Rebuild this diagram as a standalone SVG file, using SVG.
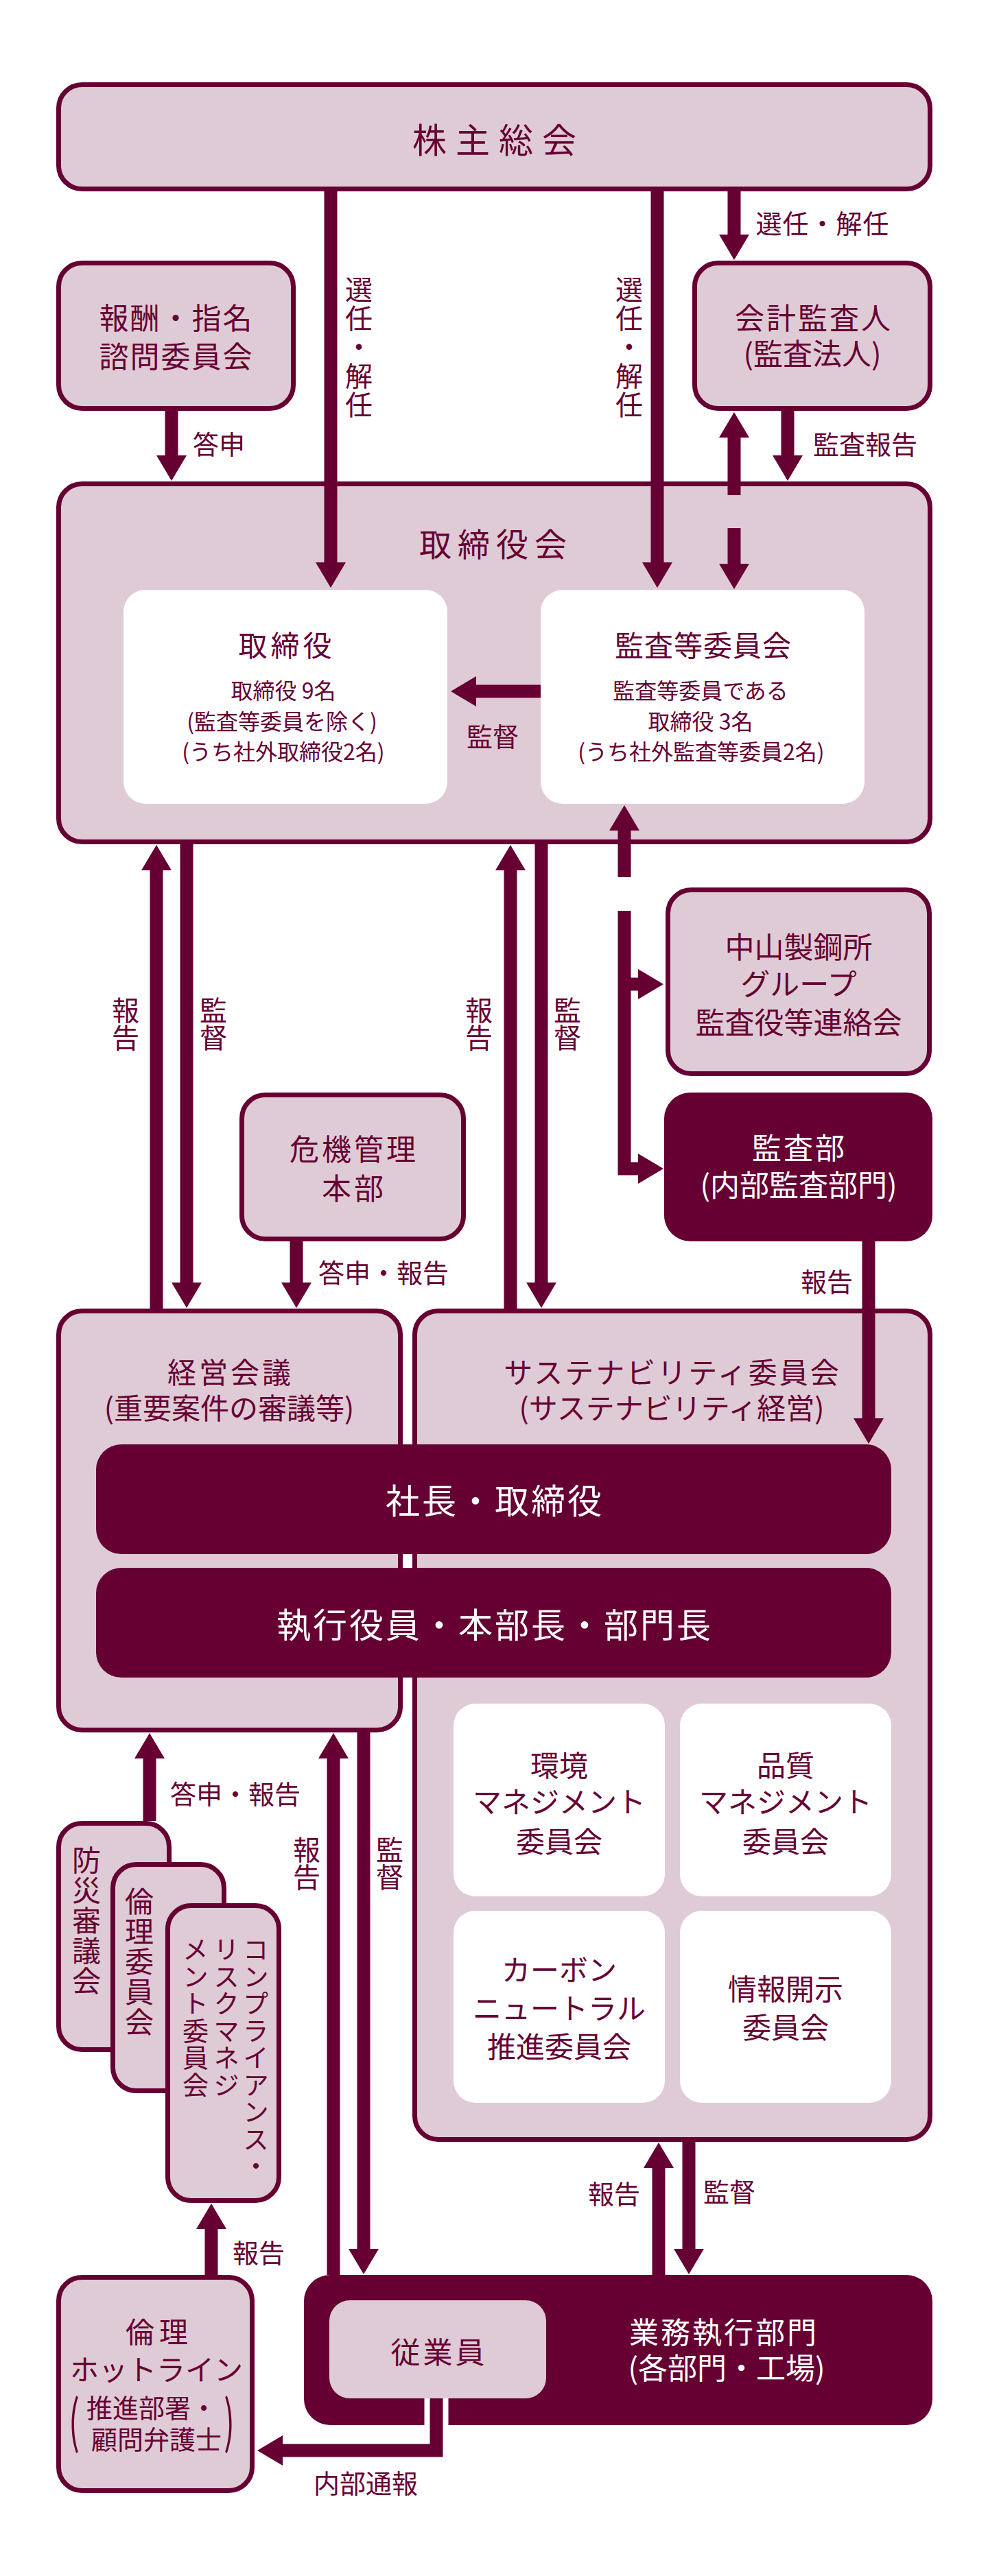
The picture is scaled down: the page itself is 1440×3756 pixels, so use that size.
<svg xmlns="http://www.w3.org/2000/svg" width="1440" height="3756" viewBox="0 0 1440 3756">
<defs>
<style>
.bx{fill:#dfcbd5;stroke:#660033;stroke-width:7}
.wb{fill:#ffffff}
.dk{fill:#660033}
.lt{fill:#dfcbd5}
.t{font-family:"Noto Sans CJK JP","Noto Sans CJK SC",sans-serif;fill:#660033;text-anchor:middle}
.w{fill:#ffffff}
.v{font-family:"Noto Sans CJK JP","Noto Sans CJK SC",sans-serif;fill:#660033;writing-mode:vertical-rl}
.ln{stroke:#660033;stroke-width:19;fill:none;marker-end:url(#ah)}
.f50{font-size:50px}
.f47{font-size:47px}
.f43{font-size:43px}
.f42{font-size:42px}
.f40{font-size:40px}
.f38{font-size:38px}
.f32{font-size:32px}
</style>
<marker id="ah" markerUnits="userSpaceOnUse" markerWidth="38" markerHeight="44" viewBox="0 0 38 44" refX="1" refY="22" orient="auto">
<path d="M0,0 L37,22 L0,44 z" fill="#660033"/>
</marker>
</defs>
<rect width="1440" height="3756" fill="#ffffff"/>

<g id="kabunushi">
<rect class="bx" x="85.5" y="123.5" width="1270" height="152" rx="34"/>
<text class="t f50" x="727" y="223" letter-spacing="13">株主総会</text>
</g>

<g id="houshu">
<rect class="bx" x="85.5" y="383.5" width="342" height="212" rx="34"/>
<text class="t f43" x="257" y="480" letter-spacing="2">報酬・指名</text>
<text class="t f43" x="257" y="536" letter-spacing="2">諮問委員会</text>
</g>

<g id="kaikei">
<rect class="bx" x="1012.5" y="383.5" width="343" height="212" rx="34"/>
<text class="t f43" x="1186" y="480" letter-spacing="3">会計監査人</text>
<text class="t f43" x="1184" y="532">(監査法人)</text>
</g>

<g id="torishimariyakukai">
<rect class="bx" x="85.5" y="705.5" width="1270" height="522" rx="34"/>
<text class="t f47" x="723" y="811" letter-spacing="9">取締役会</text>
</g>

<g id="torishimariyaku">
<rect class="wb" x="180" y="860" width="472" height="312" rx="32"/>
<text class="t f42" x="418" y="957" letter-spacing="5">取締役</text>
<text class="t f32" x="413" y="1019">取締役 9名</text>
<text class="t f32" x="411" y="1064">(監査等委員を除く)</text>
<text class="t f32" x="413" y="1108">(うち社外取締役2名)</text>
</g>

<g id="kansatou">
<rect class="wb" x="788" y="860" width="472" height="312" rx="32"/>
<text class="t f42" x="1025" y="957" letter-spacing="1">監査等委員会</text>
<text class="t f32" x="1021" y="1019">監査等委員である</text>
<text class="t f32" x="1021" y="1064">取締役 3名</text>
<text class="t f32" x="1022" y="1108">(うち社外監査等委員2名)</text>
</g>

<g id="nakayama">
<rect class="bx" x="973.5" y="1297.5" width="381" height="268" rx="34"/>
<text class="t f43" x="1164" y="1397">中山製鋼所</text>
<text class="t f43" x="1164" y="1451">グループ</text>
<text class="t f43" x="1164" y="1507">監査役等連絡会</text>
</g>

<g id="kiki">
<rect class="bx" x="352.5" y="1596.5" width="323" height="210" rx="34"/>
<text class="t f43" x="516" y="1692" letter-spacing="4">危機管理</text>
<text class="t f43" x="516" y="1749" letter-spacing="4">本部</text>
</g>

<g id="kansabu">
<rect class="dk" x="968" y="1593" width="391" height="217" rx="38"/>
<text class="t w f43" x="1165" y="1690" letter-spacing="3">監査部</text>
<text class="t w f43" x="1164" y="1744">(内部監査部門)</text>
</g>

<g id="keiei">
<rect class="bx" x="85.5" y="1911.5" width="498" height="611" rx="34"/>
<text class="t f42" x="336" y="2017" letter-spacing="4">経営会議</text>
<text class="t f42" x="334" y="2069">(重要案件の審議等)</text>
</g>

<g id="sustain">
<rect class="bx" x="604.5" y="1911.5" width="751" height="1208" rx="34"/>
<text class="t f42" x="980" y="2017" letter-spacing="3">サステナビリティ委員会</text>
<text class="t f42" x="979" y="2069">(サステナビリティ経営)</text>
</g>

<g id="shacho">
<rect class="dk" x="140" y="2106" width="1159" height="160" rx="37"/>
<text class="t w f50" x="721" y="2207" letter-spacing="3">社長・取締役</text>
</g>

<g id="shikkou">
<rect class="dk" x="140" y="2286" width="1159" height="160" rx="37"/>
<text class="t w f50" x="721" y="2388" letter-spacing="3">執行役員・本部長・部門長</text>
</g>

<g id="kankyo">
<rect class="wb" x="661" y="2484" width="308" height="281" rx="32"/>
<text class="t f42" x="815" y="2590">環境</text>
<text class="t f42" x="815" y="2643">マネジメント</text>
<text class="t f42" x="815" y="2701">委員会</text>
</g>

<g id="hinshitsu">
<rect class="wb" x="991" y="2484" width="308" height="281" rx="32"/>
<text class="t f42" x="1145" y="2590">品質</text>
<text class="t f42" x="1145" y="2643">マネジメント</text>
<text class="t f42" x="1145" y="2701">委員会</text>
</g>

<g id="carbon">
<rect class="wb" x="661" y="2786" width="308" height="280" rx="32"/>
<text class="t f42" x="815" y="2888">カーボン</text>
<text class="t f42" x="815" y="2944">ニュートラル</text>
<text class="t f42" x="815" y="3000">推進委員会</text>
</g>

<g id="jouhou">
<rect class="wb" x="991" y="2786" width="308" height="280" rx="32"/>
<text class="t f42" x="1145" y="2916">情報開示</text>
<text class="t f42" x="1145" y="2972">委員会</text>
</g>

<g id="bousai">
<rect class="bx" x="85.5" y="2658.5" width="161" height="330" rx="34"/>
<text class="v f42" x="126" y="2691" letter-spacing="2">防災審議会</text>
</g>

<g id="rinri">
<rect class="bx" x="164.5" y="2718.5" width="162" height="330" rx="34"/>
<text class="v f42" x="203" y="2751" letter-spacing="2">倫理委員会</text>
</g>

<g id="compliance">
<rect class="bx" x="244.5" y="2778.5" width="162" height="430" rx="34"/>
<text class="v f38" x="373" y="2823" letter-spacing="1.5">コンプライアンス・</text>
<text class="v f38" x="330" y="2823" letter-spacing="1.5">リスクマネジ</text>
<text class="v f38" x="285" y="2823" letter-spacing="1.5">メント委員会</text>
</g>

<g id="gyomu">
<rect class="dk" x="443" y="3317" width="916" height="219" rx="38"/>
<text class="t w f43" x="1055" y="3417" letter-spacing="3">業務執行部門</text>
<text class="t w f43" x="1059" y="3469">(各部門・工場)</text>
</g>

<g id="jugyoin">
<rect class="lt" x="480" y="3354" width="316" height="143" rx="30"/>
<text class="t f43" x="640" y="3446" letter-spacing="4">従業員</text>
</g>

<g id="hotline">
<rect class="bx" x="85.5" y="3320.5" width="282" height="311" rx="34"/>
<text class="t f42" x="232" y="3416" letter-spacing="7">倫理</text>
<text class="t f42" x="228" y="3471">ホットライン</text>
<text class="t f38" x="221" y="3525">推進部署・</text>
<text class="t f38" x="228" y="3571">顧問弁護士</text>
<text class="t" font-size="46" transform="translate(108,3561) scale(1,1.8)">(</text>
<text class="t" font-size="46" transform="translate(334,3561) scale(1,1.8)">)</text>
</g>

<g id="connectors">
<path class="ln" d="M482,279 V821"/>
<path class="ln" d="M958,279 V821"/>
<path class="ln" d="M1070,279 V343"/>
<path class="ln" d="M250,599 V665"/>
<path class="ln" d="M1148,599 V665"/>
<path class="ln" d="M1070,722 V637"/>
<path class="ln" d="M1070,770 V823"/>
<path class="ln" d="M788,1008 H693"/>
<path class="ln" d="M228,1908 V1268"/>
<path class="ln" d="M272,1231 V1871"/>
<path class="ln" d="M744,1908 V1268"/>
<path class="ln" d="M789,1231 V1871"/>
<path class="ln" d="M432,1810 V1871"/>
<path class="ln" d="M910,1279 V1210"/>
<path class="ln" d="M910,1328 V1704 H931"/>
<path class="ln" d="M910,1435 H931"/>
<path class="ln" d="M1266,1810 V2069"/>
<path class="ln" d="M218,2655 V2563"/>
<path class="ln" d="M486,3317 V2563"/>
<path class="ln" d="M530,2526 V3280"/>
<path class="ln" d="M960,3317 V3160"/>
<path class="ln" d="M1004,3123 V3280"/>
<path class="ln" d="M308,3317 V3249"/>
<path d="M636,3497 V3540" stroke="#ffffff" stroke-width="35" fill="none"/>
<path class="ln" d="M636,3497 V3573 H411"/>
</g>

<g id="labels">
<text class="v f40" x="523" y="402" letter-spacing="2">選任・解任</text>
<text class="v f40" x="917" y="402" letter-spacing="2">選任・解任</text>
<text class="t f38" x="1199" y="340" letter-spacing="1">選任・解任</text>
<text class="t f38" x="319" y="662">答申</text>
<text class="t f38" x="1261" y="662">監査報告</text>
<text class="t f38" x="718" y="1088">監督</text>
<text class="v f40" x="183" y="1453">報告</text>
<text class="v f40" x="311" y="1453">監督</text>
<text class="v f40" x="698" y="1453">報告</text>
<text class="v f40" x="827" y="1453">監督</text>
<text class="t f38" x="559" y="1870">答申・報告</text>
<text class="t f38" x="1205" y="1883">報告</text>
<text class="t f38" x="343" y="2630">答申・報告</text>
<text class="v f40" x="447" y="2677">報告</text>
<text class="v f40" x="568" y="2677">監督</text>
<text class="t f38" x="895" y="3213">報告</text>
<text class="t f38" x="1063" y="3210">監督</text>
<text class="t f38" x="377" y="3299">報告</text>
<text class="t f38" x="533" y="3635">内部通報</text>
</g>
</svg>
